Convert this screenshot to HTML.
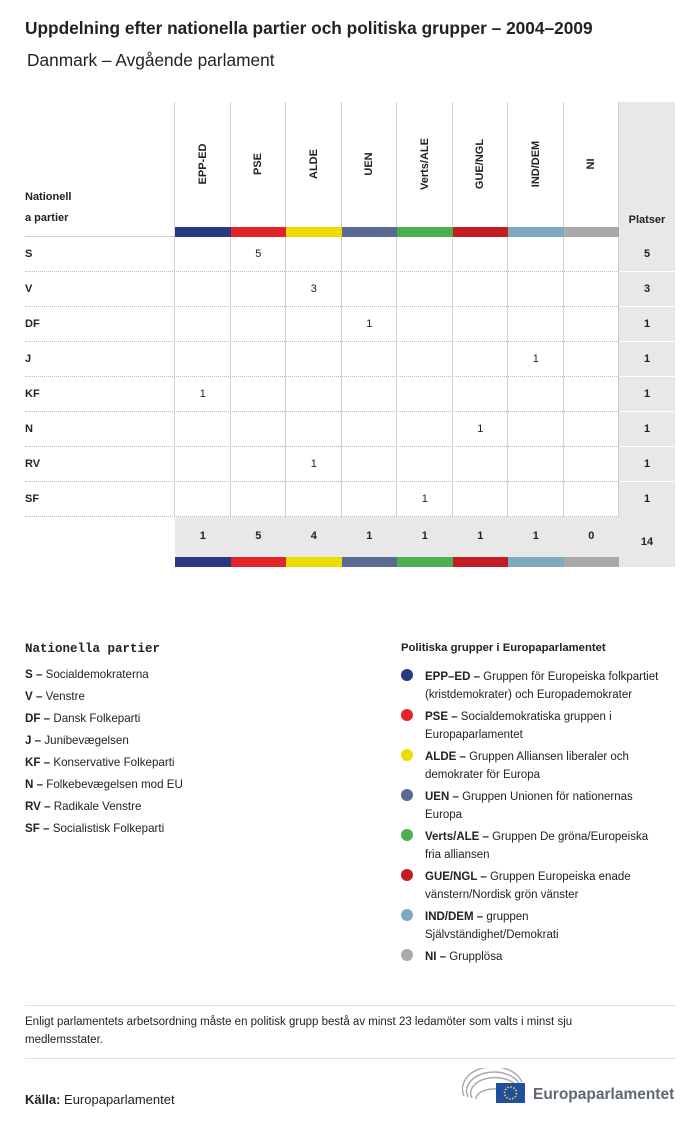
<!DOCTYPE html>
<html><head><meta charset="utf-8">
<style>
body{margin:0;width:700px;height:1126px;background:#fff;font-family:"Liberation Sans",sans-serif;color:#222;position:relative;overflow:hidden}
.a{position:absolute}
.t{font-size:11.5px}
</style></head><body>
<div class="a" style="left:25px;top:18px;font-size:17.3px;font-weight:bold">Uppdelning efter nationella partier och politiska grupper – 2004–2009</div>
<div class="a" style="left:27px;top:50px;font-size:17.3px">Danmark – Avgående parlament</div>
<div id="tbl"></div>

<div class="a" style="left:25px;top:642px;font-family:'Liberation Mono',monospace;font-weight:bold;font-size:12.5px">Nationella partier</div>
<div id="natleg"></div>
<div class="a" style="left:401px;top:642px;font-size:11.3px;font-weight:bold">Politiska grupper i Europaparlamentet</div>
<div id="grpleg"></div>

<div class="a" style="left:25px;top:1005px;width:650px;height:1px;background:#ddd"></div>
<div class="a t" style="left:25px;top:1013px;width:610px;line-height:18px">Enligt parlamentets arbetsordning måste en politisk grupp bestå av minst 23 ledamöter som valts i minst sju medlemsstater.</div>
<div class="a" style="left:25px;top:1058px;width:650px;height:1px;background:#ddd"></div>
<div class="a" style="left:25px;top:1092px;font-size:13px"><b>Källa:</b> Europaparlamentet</div>
<div class="a" style="left:462px;top:1068px;width:215px;height:40px">
<svg width="64" height="36" style="position:absolute;left:0;top:0"><g fill="none" stroke="#aaa" stroke-width="1.5"><path d="M2 28 A30 22 0 0 1 60 14"/><path d="M6 29 A26 18 0 0 1 58 17"/><path d="M10 30 A22 14 0 0 1 56 20"/><path d="M14 31 A18 10 0 0 1 40 22"/></g></svg>
<div class="a" style="left:34px;top:15px;width:29px;height:20px;background:#1f4fa0"><svg width="29" height="20"><circle cx="14.5" cy="10" r="6" fill="none" stroke="#fd0" stroke-width="1.5" stroke-dasharray="1.5 1.6"/></svg></div>
<div class="a" style="left:71px;top:18px;font-size:15.5px;font-weight:bold;color:#5f6870">Europaparlamentet</div>
</div>

<script>
const groups=["EPP-ED","PSE","ALDE","UEN","Verts/ALE","GUE/NGL","IND/DEM","NI"];
const groupColors=["#2a3a80","#e32428","#ecdc00","#5a6a95","#4caf50","#c21d22","#7fa9c0","#a9a9a9"];
const parties=["S","V","DF","J","KF","N","RV","SF"];
const seats=[
[0,5,0,0,0,0,0,0],
[0,0,3,0,0,0,0,0],
[0,0,0,1,0,0,0,0],
[0,0,0,0,0,0,1,0],
[1,0,0,0,0,0,0,0],
[0,0,0,0,0,1,0,0],
[0,0,1,0,0,0,0,0],
[0,0,0,0,1,0,0,0]];
const partyNames=["Socialdemokraterna","Venstre","Dansk Folkeparti","Junibevægelsen","Konservative Folkeparti","Folkebevægelsen mod EU","Radikale Venstre","Socialistisk Folkeparti"];
const groupDesc=[["Gruppen för Europeiska folkpartiet","(kristdemokrater) och Europademokrater"],["Socialdemokratiska gruppen i","Europaparlamentet"],["Gruppen Alliansen liberaler och","demokrater för Europa"],["Gruppen Unionen för nationernas","Europa"],["Gruppen De gröna/Europeiska","fria alliansen"],["Gruppen Europeiska enade","vänstern/Nordisk grön vänster"],["gruppen","Självständighet/Demokrati"],["Grupplösa",""]];

const T=document.getElementById('tbl');
function add(p,css,txt){const d=document.createElement('div');d.className='a';d.style.cssText=css;if(txt!==undefined)d.textContent=txt;p.appendChild(d);return d;}
const x0=175,cw=55.5,top0=102,hdrB=237,rh=35,px=619,pw=56;
const nR=parties.length,totTop=hdrB+nR*rh,totB=totTop+50;
let e=add(T,`left:${px}px;top:${top0}px;width:${pw}px;height:${totB-top0}px;background:#e8e8e8`);

e=add(T,`left:${x0}px;top:${totTop}px;width:${px-x0}px;height:50px;background:#e8e8e8`);

for(let i=0;i<=groups.length;i++){
 e=add(T,`left:${Math.round(x0+i*cw)-1}px;top:${top0}px;width:1px;height:${totTop-top0}px;background:#d0d0d0`);
 
}
e=add(T,`left:25px;top:${hdrB-1}px;width:${px-25}px;height:1px;background:#ccc`);

e=add(T,`left:25px;top:187px;font-size:11px;font-weight:bold;line-height:21px`,'');
e.innerHTML='Nationell<br>a partier';

e=add(T,`left:${px}px;top:214px;width:${pw}px;text-align:center;font-size:11px;font-weight:bold`,'Platser');

const totals=groups.map((g,j)=>seats.reduce((s,r)=>s+r[j],0));
groups.forEach((g,j)=>{
 const cx=x0+j*cw;
 let h=add(T,`left:${cx+cw/2-60}px;top:158px;width:120px;text-align:center;font-size:11px;font-weight:bold;transform:rotate(-90deg)`,g);
 
 let b=add(T,`left:${cx}px;top:${hdrB-10}px;width:${cw}px;height:10px;background:${groupColors[j]}`);
 
 b=add(T,`left:${cx}px;top:${totB-10}px;width:${cw}px;height:10px;background:${groupColors[j]}`);
 
 let t=add(T,`left:${cx}px;top:${totTop+13}px;width:${cw}px;text-align:center;font-size:11px;font-weight:bold`,String(totals[j]));
 
});
parties.forEach((p,i)=>{
 const y=hdrB+i*rh;
 let l=add(T,`left:25px;top:${y+rh-1}px;width:${px-25}px;height:0;border-top:1px dotted #bbb`);
 
 let n=add(T,`left:25px;top:${y+11}px;font-size:11px;font-weight:bold`,p);
 
 seats[i].forEach((v,j)=>{if(v>0){
  let c=add(T,`left:${x0+j*cw}px;top:${y+11}px;width:${cw}px;text-align:center;font-size:11px`,String(v));
  }});
 let s=add(T,`left:${px}px;top:${y+11}px;width:${pw}px;text-align:center;font-size:11px;font-weight:bold`,String(seats[i].reduce((a,b)=>a+b,0)));
 
 if(i<nR-1){let w=add(T,`left:${px}px;top:${y+rh-1}px;width:${pw}px;height:1px;background:#fff`);}
});
let gt=add(T,`left:${px}px;top:${totTop+19}px;width:${pw}px;text-align:center;font-size:11px;font-weight:bold`,String(totals.reduce((a,b)=>a+b,0)));


const NL=document.getElementById('natleg');
parties.forEach((p,i)=>{
 let d=add(NL,`left:25px;top:${668+i*22}px;font-size:11.6px`);
 d.innerHTML='<b>'+p+' –</b> '+partyNames[i];
 
});
const GL=document.getElementById('grpleg');
groups.forEach((g,j)=>{
 const y=668+j*40;
 let c=add(GL,`left:401px;top:${y+1}px;width:12px;height:12px;border-radius:50%;background:${groupColors[j]}`);
 
 let d=add(GL,`left:425px;top:${y}px;font-size:11.5px;line-height:18px;width:270px`);
 d.innerHTML='<b>'+g.replace('-','–')+' –</b> '+groupDesc[j][0]+(groupDesc[j][1]?'<br>'+groupDesc[j][1]:'');
 
});
</script>
</body></html>
